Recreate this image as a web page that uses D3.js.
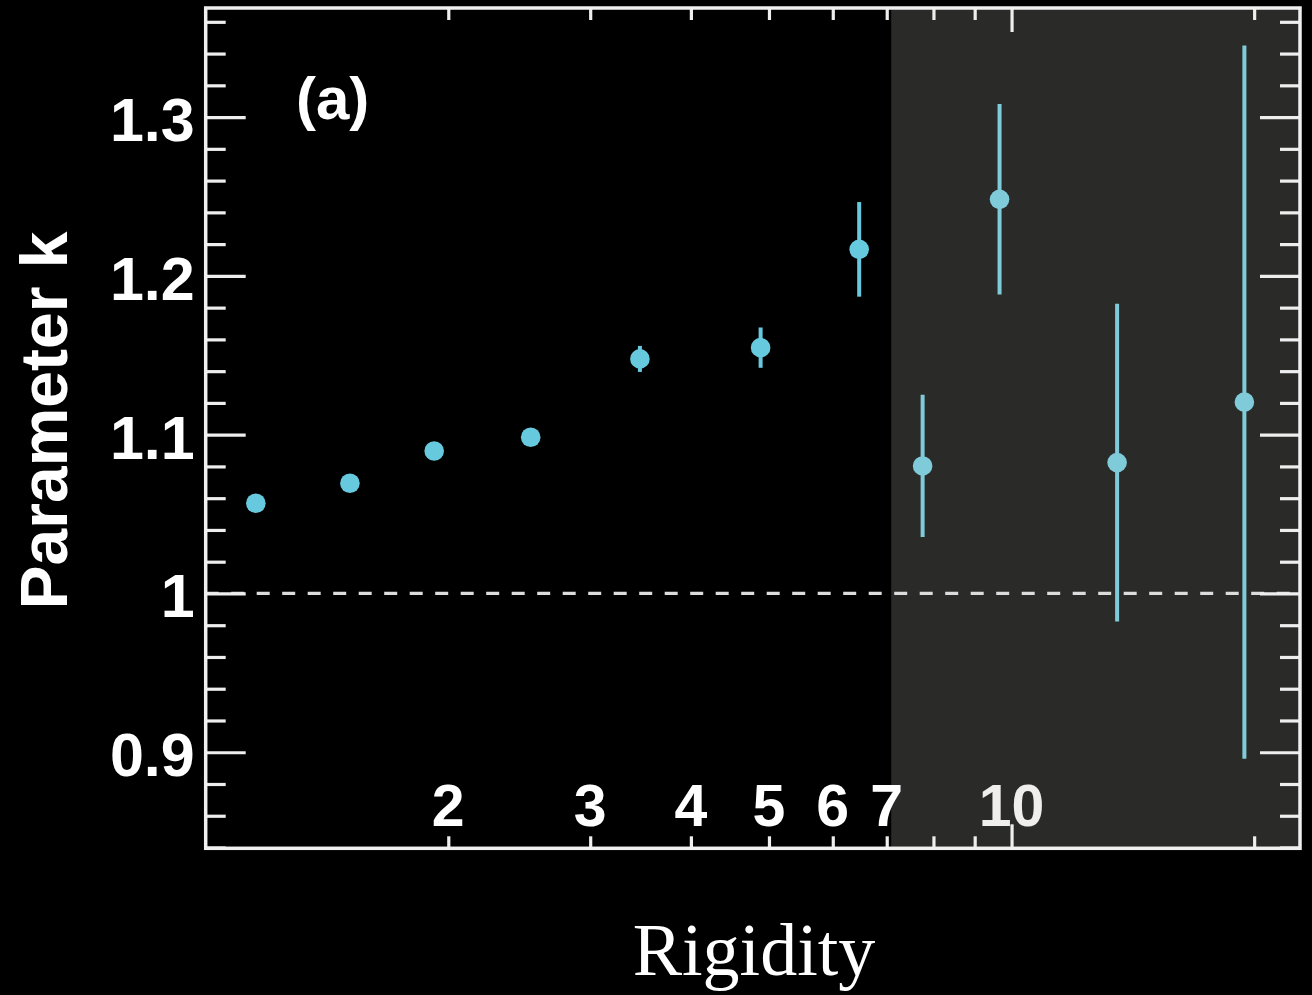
<!DOCTYPE html>
<html>
<head>
<meta charset="utf-8">
<script src="https://cdn.jsdelivr.net/npm/d3@7"></script>
<style>
  html, body { margin: 0; padding: 0; background: #000; }
  svg { display: block; }
</style>
</head>
<body>
<svg id="chart" width="1312" height="995"></svg>
<script>
// ---- data ----
const rigidity = [1.154, 1.51, 1.921, 2.531, 3.458, 4.882, 6.47, 7.756, 9.663, 13.52, 19.45];
const kValues  = [1.0568, 1.0694, 1.0897, 1.0984, 1.1477, 1.1548, 1.2167, 1.0803, 1.2482, 1.0824, 1.1205];
const kErrors  = [0, 0, 0, 0, 0.0082, 0.0127, 0.0298, 0.0448, 0.060, 0.100, 0.2246];
const xTickLabels = [2, 3, 4, 5, 6, 7, 10];
const xMinorTicks = [2, 3, 4, 5, 6, 7, 8, 9, 20];
const xMajorTicks = [10];
const yTickLabels = [0.9, 1.0, 1.1, 1.2, 1.3];
const yMinorTicks = [0.84, 0.86, 0.88, 0.92, 0.94, 0.96, 0.98, 1.02, 1.04, 1.06, 1.08, 1.12, 1.14, 1.16, 1.18, 1.22, 1.24, 1.26, 1.28, 1.32, 1.34, 1.36];
const shadeStart = 7.09;
const referenceK = 1.0;
const xTitle = "Rigidity";
const yTitle = "Parameter k";
const panelLabel = "(a)";

// ---- layout ----
const L = 205.7, R = 1300, T = 8, B = 848.3;
const svg = d3.select("#chart");
svg.append("rect").attr("width", 1312).attr("height", 995).attr("fill", "#000");

const x = d3.scaleLog().domain([1, 22.8]).range([L, R]);
const y = d3.scaleLinear().domain([0.8395, 1.3687]).range([B, T]);

// shaded region
svg.append("rect")
  .attr("x", x(shadeStart)).attr("y", T)
  .attr("width", R - x(shadeStart)).attr("height", B - T)
  .attr("fill", "#2a2a29");

// reference dashed line
svg.append("line")
  .attr("x1", L).attr("x2", R)
  .attr("y1", y(referenceK)).attr("y2", y(referenceK))
  .attr("stroke", "#dcdcdc").attr("stroke-width", 3.2)
  .attr("stroke-dasharray", "13,12.5");

// axes ticks (inside)
const tickStyle = g => {
  g.select(".domain").remove();
  g.selectAll(".tick line").attr("stroke", "#eeeeee").attr("stroke-width", 3.2);
  g.selectAll(".tick text").remove();
};
svg.append("g").attr("transform", `translate(${L},0)`)
  .call(d3.axisRight(y).tickValues(yTickLabels).tickSize(40)).call(tickStyle);
svg.append("g").attr("transform", `translate(${L},0)`)
  .call(d3.axisRight(y).tickValues(yMinorTicks).tickSize(20)).call(tickStyle);
svg.append("g").attr("transform", `translate(${R},0)`)
  .call(d3.axisLeft(y).tickValues(yTickLabels).tickSize(40)).call(tickStyle);
svg.append("g").attr("transform", `translate(${R},0)`)
  .call(d3.axisLeft(y).tickValues(yMinorTicks).tickSize(20)).call(tickStyle);
svg.append("g").attr("transform", `translate(0,${B})`)
  .call(d3.axisTop(x).tickValues(xMinorTicks).tickSize(12)).call(tickStyle);
svg.append("g").attr("transform", `translate(0,${B})`)
  .call(d3.axisTop(x).tickValues(xMajorTicks).tickSize(24)).call(tickStyle);
svg.append("g").attr("transform", `translate(0,${T})`)
  .call(d3.axisBottom(x).tickValues(xMinorTicks).tickSize(12)).call(tickStyle);
svg.append("g").attr("transform", `translate(0,${T})`)
  .call(d3.axisBottom(x).tickValues(xMajorTicks).tickSize(24)).call(tickStyle);

// error bars and points
const pts = rigidity.map((r, i) => ({ r, k: kValues[i], e: kErrors[i] }));
const colorOf = d => d.r > shadeStart ? "#80cbd9" : "#67c9de";
svg.append("g").selectAll("line").data(pts.filter(d => d.e > 0)).join("line")
  .attr("x1", d => x(d.r)).attr("x2", d => x(d.r))
  .attr("y1", d => y(d.k + d.e)).attr("y2", d => y(d.k - d.e))
  .attr("stroke", colorOf).attr("stroke-width", 4);
svg.append("g").selectAll("circle").data(pts).join("circle")
  .attr("cx", d => x(d.r)).attr("cy", d => y(d.k)).attr("r", 9.8)
  .attr("fill", colorOf);

// frame
svg.append("rect").attr("x", L).attr("y", T).attr("width", R - L).attr("height", B - T)
  .attr("fill", "none").attr("stroke", "#f0f0f0").attr("stroke-width", 3.5);

// y tick labels
svg.append("g").selectAll("text").data(yTickLabels).join("text")
  .attr("x", L - 11).attr("y", d => y(d) + 24)
  .attr("text-anchor", "end")
  .attr("font-family", "Liberation Sans, Arial, sans-serif")
  .attr("font-weight", "bold").attr("font-size", 61)
  .attr("fill", "#ffffff")
  .text(d => d === 1 ? "1" : d3.format(".1f")(d));

// x tick labels (inside plot)
svg.append("g").selectAll("text").data(xTickLabels).join("text")
  .attr("x", d => x(d)).attr("y", 826)
  .attr("text-anchor", "middle")
  .attr("font-family", "Liberation Sans, Arial, sans-serif")
  .attr("font-weight", "bold").attr("font-size", 59)
  .attr("fill", d => d > shadeStart ? "#efeeec" : "#ffffff")
  .text(d => d);

// panel label
svg.append("text")
  .attr("x", 296).attr("y", 119)
  .attr("font-family", "Liberation Sans, Arial, sans-serif")
  .attr("font-weight", "bold").attr("font-size", 60)
  .attr("fill", "#ffffff")
  .text(panelLabel);

// y title
svg.append("text")
  .attr("transform", "translate(67,420.5) rotate(-90)")
  .attr("text-anchor", "middle")
  .attr("font-family", "Liberation Sans, Arial, sans-serif")
  .attr("font-weight", "bold").attr("font-size", 66)
  .attr("fill", "#ffffff")
  .text(yTitle);

// x title
svg.append("text")
  .attr("x", 754).attr("y", 975)
  .attr("text-anchor", "middle")
  .attr("font-family", "Liberation Serif, Times New Roman, serif")
  .attr("font-size", 74)
  .attr("fill", "#ffffff")
  .text(xTitle);
</script>
</body>
</html>
